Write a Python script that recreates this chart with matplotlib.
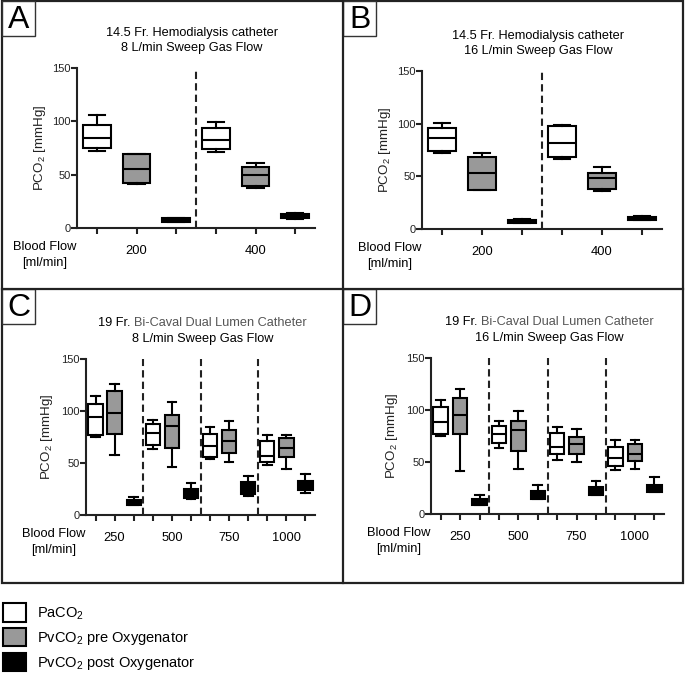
import matplotlib
matplotlib.use("Agg")
import numpy as np
from matplotlib import pyplot as plt
from matplotlib.patches import Rectangle, Patch
from matplotlib.lines import Line2D

plt.rcParams['font.family'] = ['Liberation Sans', 'DejaVu Sans']
plt.rcParams['mathtext.fontset'] = 'custom'
plt.rcParams['mathtext.rm'] = 'Liberation Sans'
plt.rcParams['mathtext.it'] = 'Liberation Sans:italic'

# box stats per group: [whisker low, q1, median, q3, whisker high]
A_FLOWS = ['200', '400']
A_PA = [[72.5, 75.0, 84.7, 96.2, 105.8], [71.6, 73.8, 82.5, 93.4, 99.0]]
A_PRE = [[41.4, 42.0, 55.0, 69.0, 69.5], [37.3, 39.8, 49.8, 57.6, 61.3]]
A_POST = [[5.6, 5.8, 7.5, 9.2, 9.6], [8.7, 9.0, 10.9, 12.8, 13.7]]

B_FLOWS = ['200', '400']
B_PA = [[72.0, 73.6, 86.8, 96.3, 100.4], [66.3, 68.8, 81.5, 97.9, 98.5]]
B_PRE = [[37.0, 37.3, 53.0, 68.8, 72.0], [36.3, 38.2, 48.3, 53.4, 58.4]]
B_POST = [[5.7, 6.0, 7.3, 9.0, 9.5], [8.2, 8.8, 10.1, 11.5, 12.0]]

C_FLOWS = ['250', '500', '750', '1000']
C_PA = [[74.8, 77.1, 94.1, 107.0, 114.7], [63.6, 67.5, 78.7, 87.7, 91.2],
        [53.6, 56.2, 66.5, 78.1, 84.5], [48.2, 51.4, 57.2, 70.7, 76.8]]
C_PRE = [[57.8, 78.0, 98.0, 118.9, 126.2], [46.6, 64.6, 85.1, 96.4, 108.3],
         [50.8, 60.0, 71.6, 81.3, 90.0], [44.0, 55.3, 64.6, 73.6, 77.4]]
C_POST = [[9.6, 9.6, 12.2, 14.5, 17.0], [15.0, 16.1, 20.2, 24.7, 31.2],
          [18.3, 19.9, 25.7, 31.5, 37.3], [21.5, 24.1, 27.9, 32.8, 39.8]]

D_FLOWS = ['250', '500', '750', '1000']
D_PA = [[75.2, 76.8, 88.3, 102.8, 109.2], [63.9, 68.1, 76.8, 84.8, 89.6],
        [52.0, 57.8, 64.6, 77.7, 83.2], [42.4, 46.6, 54.3, 64.9, 71.6]]
D_PRE = [[41.4, 76.8, 95.1, 111.5, 120.5], [43.4, 60.1, 81.0, 89.0, 99.3],
         [50.4, 57.5, 67.5, 74.5, 82.2], [43.4, 51.4, 57.8, 67.5, 71.3]]
D_POST = [[8.7, 8.7, 11.6, 14.1, 18.3], [14.1, 14.8, 19.3, 21.8, 27.9],
          [18.3, 18.3, 23.1, 25.7, 31.8], [20.9, 20.9, 24.7, 28.3, 35.3]]

SERIES = ['PaCO$_2$', 'PvCO$_2$ pre Oxygenator', 'PvCO$_2$ post Oxygenator']
FILLS = ['white', '#999999', 'black']

W = 685.0
LW = 1.5


def fx(px):
    return px / W


def fy(py):
    return 1 - py / W


def panel(fig, rect, flows, series, title2, letter, frame, gray_title=False):
    l, t, r, b = rect
    ax = fig.add_axes([fx(l), fy(b), (r - l) / W, (b - t) / W])
    n = len(flows)
    width = 0.7 if n == 2 else 0.75
    for s, data in enumerate(series):
        stats = []
        for g in range(n):
            lo, q1, med, q3, hi = data[g]
            stats.append(dict(whislo=lo, q1=q1, med=med, q3=q3, whishi=hi))
        pos = [g * 3 + s + 1 for g in range(n)]
        ax.bxp(stats, positions=pos, widths=width, capwidths=width * 0.6,
               showfliers=False, patch_artist=True,
               boxprops=dict(facecolor=FILLS[s], edgecolor='black', linewidth=LW),
               medianprops=dict(color='black', linewidth=LW),
               whiskerprops=dict(color='black', linewidth=LW),
               capprops=dict(color='black', linewidth=LW))
    for g in range(1, n):
        ax.axvline(g * 3 + 0.5, color='#222222', linewidth=LW, linestyle=(0, (3.5, 2)))
    ax.set_xlim(0.5, n * 3 + 0.5)
    ax.set_ylim(0, 150)
    ax.set_yticks([0, 50, 100, 150])
    ticks = list(range(1, n * 3 + 1))
    labels = ['' for _ in ticks]
    for g in range(n):
        labels[g * 3 + 1] = flows[g]
    ax.set_xticks(ticks)
    ax.set_xticklabels(labels, fontsize=9.3)
    for sp in ['top', 'right']:
        ax.spines[sp].set_visible(False)
    for sp in ['left', 'bottom']:
        ax.spines[sp].set_linewidth(LW)
        ax.spines[sp].set_color('#222222')
    ax.tick_params(axis='x', length=4, width=LW, pad=8, color='#222222')
    ax.tick_params(axis='y', length=4, width=LW, pad=0.5, labelsize=8, colors='#222222')
    ax.set_ylabel('PCO$_2$ [mmHg]', fontsize=9.6, color='#222222')
    ax.yaxis.set_label_coords(-(29 if not gray_title else 31) / (r - l), 0.5)
    ax.patch.set_visible(False)

    cx = (l + r) / 2
    if gray_title:
        t1 = fig.text(fx(cx), fy(t - 36), '19 Fr. ', fontsize=9.2, ha='left', va='center')
        t2 = fig.text(fx(cx), fy(t - 36), 'Bi-Caval Dual Lumen Catheter', fontsize=9.2,
                      ha='left', va='center', color='#555555')
        fig.canvas.draw()
        rend = fig.canvas.get_renderer()
        w1 = t1.get_window_extent(rend).width
        w2 = t2.get_window_extent(rend).width
        x0 = cx + 2 - (w1 + w2) / 2
        t1.set_x(fx(x0))
        t2.set_x(fx(x0 + w1))
    else:
        fig.text(fx(cx - 4), fy(t - 35), '14.5 Fr. Hemodialysis catheter', fontsize=9.2,
                 ha='center', va='center')
    fig.text(fx(cx - (4 if not gray_title else -2)), fy(t - 20),
             title2, fontsize=9.2, ha='center', va='center')

    fig.text(fx(l - 32), fy(b + 19), 'Blood Flow', fontsize=9.3, ha='center', va='center')
    fig.text(fx(l - 32), fy(b + 35), '[ml/min]', fontsize=9.3, ha='center', va='center')

    fx0, fy0 = frame
    fig.add_artist(Rectangle((fx(fx0), fy(fy0 + 35)), 33 / W, 35 / W, transform=fig.transFigure,
                             facecolor='white', edgecolor='#333333', linewidth=1.0))
    fig.text(fx(fx0 + 17), fy(fy0 + 19), letter, fontsize=23, ha='center', va='center')
    return ax


fig = plt.figure(figsize=(6.85, 6.85), dpi=100)

# outer frame and dividers
fig.add_artist(Rectangle((fx(2), fy(583)), (683 - 2) / W, (583 - 1) / W, transform=fig.transFigure,
                         fill=False, edgecolor='#222222', linewidth=1.6))
fig.add_artist(Line2D([fx(343), fx(343)], [fy(1), fy(583)], transform=fig.transFigure,
                      color='#222222', linewidth=1.6))
fig.add_artist(Line2D([fx(2), fx(683)], [fy(289), fy(289)], transform=fig.transFigure,
                      color='#222222', linewidth=1.6))

panel(fig, (77, 68, 315, 228), A_FLOWS, [A_PA, A_PRE, A_POST], '8 L/min Sweep Gas Flow', 'A', (2, 1))
panel(fig, (422, 71, 662, 229), B_FLOWS, [B_PA, B_PRE, B_POST], '16 L/min Sweep Gas Flow', 'B', (343, 1))
panel(fig, (86, 359, 315, 515), C_FLOWS, [C_PA, C_PRE, C_POST], '8 L/min Sweep Gas Flow', 'C', (2, 289),
      gray_title=True)
panel(fig, (431, 358, 664, 514), D_FLOWS, [D_PA, D_PRE, D_POST], '16 L/min Sweep Gas Flow', 'D', (343, 289),
      gray_title=True)

handles = [Patch(facecolor=FILLS[i], edgecolor='black', linewidth=LW) for i in range(3)]
fig.legend(handles, SERIES, loc='upper left', bbox_to_anchor=(fx(3), fy(603)),
           frameon=False, fontsize=10.5, handlelength=1.6, handleheight=1.6,
           labelspacing=0.4, handletextpad=0.7, borderpad=0, borderaxespad=0)

fig.savefig('out.png', dpi=100)
